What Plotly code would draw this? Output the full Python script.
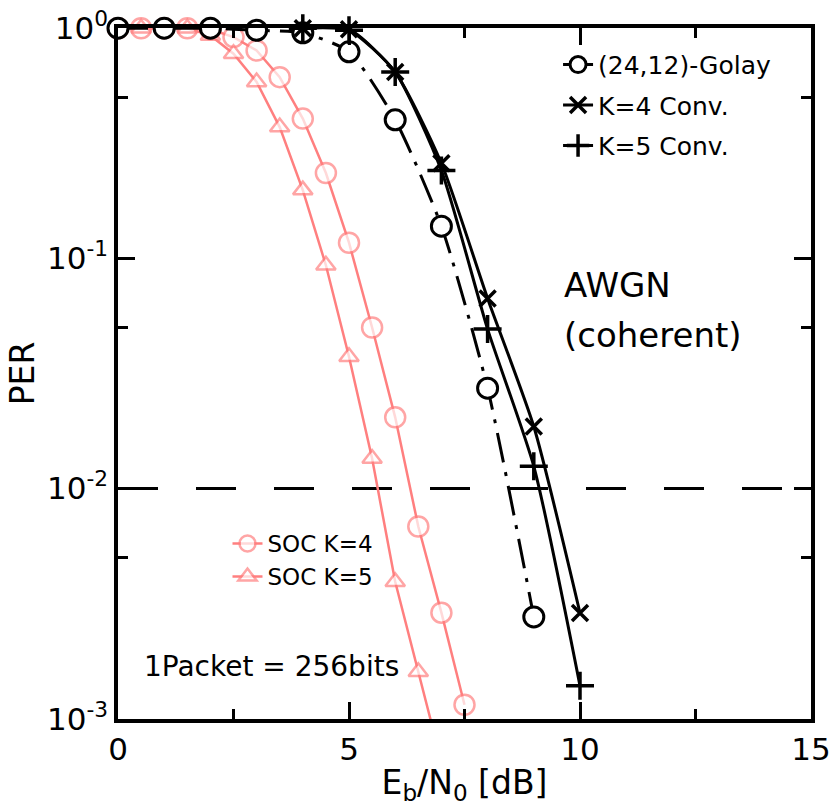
import plotly.graph_objects as go

# ---------------- data ----------------
golay_x = [0, 1, 2, 3, 4, 5, 6, 7, 8, 9]
golay_y = [1.0, 1.0, 1.0, 0.98, 0.955, 0.79, 0.40, 0.138, 0.0273, 0.00277]

k4_x = [4, 5, 6, 7, 8, 9, 10]
k4_y = [1.0, 0.99, 0.645, 0.259, 0.067, 0.0186, 0.00288]

k5_x = [4, 5, 6, 7, 8, 9, 10]
k5_y = [1.0, 0.98, 0.645, 0.241, 0.0493, 0.0125, 0.00139]

soc4_x = [0, 0.5, 1, 1.5, 2, 2.5, 3, 3.5, 4, 4.5, 5, 5.5, 6, 6.5, 7, 7.5]
soc4_y = [1.0, 1.0, 1.0, 1.0, 0.99, 0.915, 0.80, 0.613, 0.405, 0.235, 0.117,
          0.0501, 0.0204, 0.00684, 0.00289, 0.00115]

soc5_x = [0, 0.5, 1, 1.5, 2, 2.5, 3, 3.5, 4, 4.5, 5, 5.5, 6, 6.5, 7]
soc5_y = [1.0, 1.0, 1.0, 1.0, 0.93, 0.775, 0.584, 0.372, 0.198, 0.0934,
          0.0374, 0.0135, 0.00394, 0.0016, 0.00065]

threshold = 1e-2
x_range = [0, 15]
y_log_range = [-3.001, 0.001]
y_min = 1e-3

x_ticks = [0, 5, 10, 15]
x_minor = [2.5, 7.5, 12.5]
y_ticks = [1, 0.1, 0.01, 0.001]
y_ticktext = ["10<sup>0</sup>", "10<sup>-1</sup>", "10<sup>-2</sup>", "10<sup>-3</sup>"]
y_minor = [0.5, 0.05, 0.005]

PINK = "#FF7F7F"
FONT = "DejaVu Sans"

def sizes(ys, s):
    return [s if y >= y_min else 0 for y in ys]

fig = go.Figure()

# threshold dashed line
fig.add_trace(go.Scatter(
    x=x_range, y=[threshold, threshold], mode="lines",
    line=dict(color="black", width=3, dash="40px,38px"),
    showlegend=False, hoverinfo="skip"))

# pink SOC curves (legend2)
fig.add_trace(go.Scatter(
    x=soc4_x, y=soc4_y, mode="lines+markers", name="SOC K=4",
    line=dict(color=PINK, width=2.5),
    marker=dict(symbol="circle", size=sizes(soc4_y, 20), color="white",
                line=dict(color=PINK, width=2.5)),
    cliponaxis=False, legend="legend2"))
fig.add_trace(go.Scatter(
    x=soc5_x, y=soc5_y, mode="lines+markers", name="SOC K=5",
    line=dict(color=PINK, width=2.5),
    marker=dict(symbol="triangle-up", size=sizes(soc5_y, 17), color="white",
                line=dict(color=PINK, width=2.5)),
    cliponaxis=False, legend="legend2"))

# black curves (legend)
fig.add_trace(go.Scatter(
    x=golay_x, y=golay_y, mode="lines+markers", name="(24,12)-Golay",
    line=dict(color="black", width=3, dash="30px,10px,4px,10px", shape="spline", smoothing=0.6),
    marker=dict(symbol="circle", size=20, color="white",
                line=dict(color="black", width=3)),
    cliponaxis=False, legendgroup="g1"))
fig.add_trace(go.Scatter(
    x=k4_x, y=k4_y, mode="lines+markers", name="K=4 Conv.",
    line=dict(color="black", width=3, shape="spline", smoothing=0.6),
    marker=dict(symbol="x-thin", size=16, color="black",
                line=dict(color="black", width=3.5)),
    cliponaxis=False, legendgroup="g2"))
fig.add_trace(go.Scatter(
    x=k5_x, y=k5_y, mode="lines+markers", name="K=5 Conv.",
    line=dict(color="black", width=3, shape="spline", smoothing=0.6),
    marker=dict(symbol="cross-thin", size=20, color="black",
                line=dict(color="black", width=3.5)),
    cliponaxis=False, legendgroup="g3"))

fig.add_annotation(x=9.6, y=-1.117, xref="x", yref="y", text="AWGN",
                   showarrow=False, xanchor="left", yanchor="middle",
                   font=dict(size=34, family=FONT, color="black"))
fig.add_annotation(x=9.6, y=-1.334, xref="x", yref="y", text="(coherent)",
                   showarrow=False, xanchor="left", yanchor="middle",
                   font=dict(size=34, family=FONT, color="black"))
fig.add_annotation(x=0.52, y=-2.775, xref="x", yref="y", text="1Packet = 256bits",
                   showarrow=False, xanchor="left", yanchor="middle",
                   font=dict(size=28, family=FONT, color="black"))

axis_common = dict(
    showline=True, linewidth=3.5, linecolor="black", mirror="allticks",
    ticks="inside", ticklen=17, tickwidth=3, tickcolor="black",
    showgrid=False, zeroline=False, automargin=False,
    tickfont=dict(size=31, family=FONT, color="black"),
)

fig.update_layout(
    width=832, height=809,
    margin=dict(l=118, r=21, t=28, b=90),
    paper_bgcolor="white", plot_bgcolor="white",
    font=dict(family=FONT, color="black"),
    xaxis=dict(range=x_range, tickvals=x_ticks,
               minor=dict(tickvals=x_minor, ticks="inside", ticklen=10,
                          tickwidth=3, tickcolor="black"),
               title=dict(text="E<sub>b</sub>/N<sub>0</sub> [dB]",
                          font=dict(size=33, family=FONT), standoff=6),
               **axis_common),
    yaxis=dict(type="log", range=y_log_range, tickvals=y_ticks, ticktext=y_ticktext,
               minor=dict(tickvals=y_minor, ticks="inside", ticklen=10,
                          tickwidth=3, tickcolor="black"),
               title=dict(text="PER", font=dict(size=33, family=FONT), standoff=3),
               **axis_common),
    legend=dict(x=0.635, y=0.98, xanchor="left", yanchor="top",
                bgcolor="rgba(0,0,0,0)", font=dict(size=25, family=FONT),
                tracegroupgap=5, traceorder="grouped"),
    legend2=dict(x=0.158, y=0.285, xanchor="left", yanchor="top",
                 bgcolor="rgba(0,0,0,0)", font=dict(size=23, family=FONT)),
)

fig.write_html("out.html")
